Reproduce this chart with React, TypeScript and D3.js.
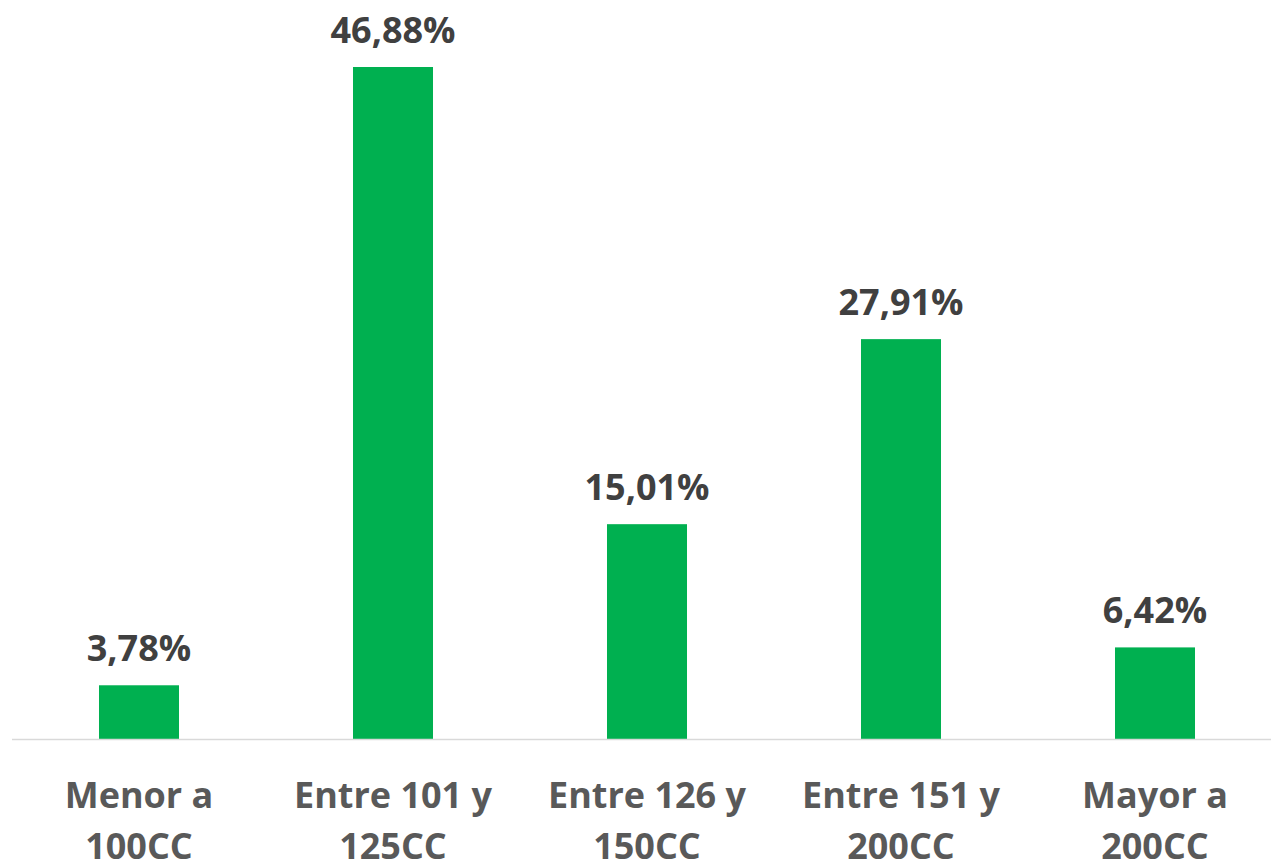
import React from "react";
import * as d3 from "d3";

const categories: string[][] = [
  ["Menor a", "100CC"],
  ["Entre 101 y", "125CC"],
  ["Entre 126 y", "150CC"],
  ["Entre 151 y", "200CC"],
  ["Mayor a", "200CC"],
];
const values: number[] = [3.78, 46.88, 15.01, 27.91, 6.42];
const valueLabels: string[] = ["3,78%", "46,88%", "15,01%", "27,91%", "6,42%"];

const W = 1271;
const H = 863;
const baseY = 739.5;
const x = d3.scaleBand<number>().domain(d3.range(values.length)).range([12, 1282]).paddingInner(0.685).paddingOuter(0.3425);
const y = d3.scaleLinear().domain([0, 46.88]).range([baseY, 67]);

export default function App() {
  return (
    <svg width={W} height={H} style={{ position: "absolute", left: 0, top: 0 }} fontFamily="'Open Sans', sans-serif">
      <rect width={W} height={H} fill="#fff" />
      {values.map((v, i) => (
        <rect key={i} x={x(i)} y={y(v)} width={x.bandwidth()} height={baseY - y(v)} fill="#00B050" />
      ))}
      <line x1={12} x2={W} y1={baseY} y2={baseY} stroke="#D9D9D9" strokeWidth={1.5} />
      {values.map((v, i) => (
        <text key={i} x={x(i)! + x.bandwidth() / 2} y={y(v) - 24} textAnchor="middle" fontWeight="bold" fontSize={36} fill="#404040">
          {valueLabels[i]}
        </text>
      ))}
      {categories.map((c, i) => (
        <text key={i} x={x(i)! + x.bandwidth() / 2} y={808} textAnchor="middle" fontWeight="bold" fontSize={36} fill="#595959">
          {c.map((l, j) => (
            <tspan key={j} x={x(i)! + x.bandwidth() / 2} dy={j === 0 ? 0 : 51}>{l}</tspan>
          ))}
        </text>
      ))}
    </svg>
  );
}
